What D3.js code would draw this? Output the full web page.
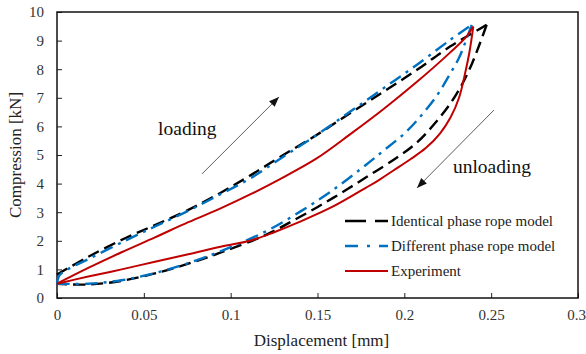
<!DOCTYPE html>
<html>
<head>
<meta charset="utf-8">
<script src="https://cdn.jsdelivr.net/npm/d3@7"></script>
<style>
  body { margin: 0; background: #fff; }
  svg text { font-family: "Liberation Serif", "Times New Roman", serif; }
</style>
</head>
<body>
<div id="chart"></div>
<script>
// data: [displacement mm, compression kN]
const identLoading = [
  [0, 0.82], [0.018, 1.44], [0.0392, 2.09], [0.0564, 2.55], [0.0756, 3.08],
  [0.0948, 3.70], [0.1112, 4.28], [0.1303, 5.0], [0.1495, 5.70], [0.1687, 6.46],
  [0.1879, 7.21], [0.2071, 7.97], [0.2263, 8.79], [0.2474, 9.55]
];
const identUnloading = [
  [0.2474, 9.55], [0.2435, 8.9], [0.239, 8.2], [0.2335, 7.5], [0.2265, 6.8],
  [0.2175, 6.1], [0.2075, 5.45], [0.196, 4.92], [0.178, 4.22], [0.159, 3.5],
  [0.14, 2.84], [0.12, 2.2], [0.0948, 1.6], [0.0756, 1.2], [0.0564, 0.86],
  [0.0372, 0.6], [0.018, 0.47], [0, 0.5]
];
const diffLoading = [
  [0, 0.5], [0.0015, 0.8], [0.006, 1.0], [0.018, 1.36], [0.0392, 2.0],
  [0.0564, 2.5], [0.0756, 3.05], [0.0948, 3.65], [0.1112, 4.18], [0.1303, 4.94],
  [0.1495, 5.70], [0.1687, 6.51], [0.1879, 7.33], [0.2071, 8.15], [0.2263, 9.02],
  [0.2388, 9.55]
];
const diffUnloading = [
  [0.2388, 9.55], [0.2355, 9.0], [0.2315, 8.4], [0.2255, 7.75], [0.219, 7.1],
  [0.21, 6.4], [0.2, 5.75], [0.188, 5.15], [0.178, 4.66], [0.159, 3.78],
  [0.14, 3.02], [0.12, 2.32], [0.0948, 1.65], [0.0756, 1.22], [0.0564, 0.87],
  [0.0372, 0.62], [0.018, 0.5], [0, 0.5]
];
const expLoading = [
  [0, 0.5], [0.018, 1.05], [0.0372, 1.6], [0.0564, 2.12], [0.0756, 2.65],
  [0.0948, 3.15], [0.1112, 3.62], [0.1303, 4.22], [0.1495, 4.88], [0.1687, 5.72],
  [0.1879, 6.6], [0.2071, 7.55], [0.2263, 8.58], [0.2359, 9.15], [0.2397, 9.49]
];
const expUnloading = [
  [0.2397, 9.49], [0.2375, 8.6], [0.2355, 8.0], [0.2315, 7.0], [0.2265, 6.3],
  [0.2205, 5.75], [0.2125, 5.25], [0.2035, 4.85], [0.1935, 4.45], [0.186, 4.15],
  [0.178, 3.86], [0.159, 3.2], [0.14, 2.67], [0.125, 2.3], [0.111, 2.0],
  [0.0948, 1.8], [0.0756, 1.53], [0.0564, 1.27], [0.0372, 1.0], [0.018, 0.75],
  [0, 0.5]
];

const seriesNames = ["Identical phase rope model", "Different phase rope model", "Experiment"];
const xTicks = [0, 0.05, 0.1, 0.15, 0.2, 0.25, 0.3];
const yTicks = [0, 1, 2, 3, 4, 5, 6, 7, 8, 9, 10];

// annotations in data units
const loadingArrow = [[0.0835, 4.34], [0.1278, 7.03]];
const unloadingArrow = [[0.2516, 6.57], [0.2073, 3.85]];

// layout
const width = 586;
const height = 354;
const margin = { top: 12, right: 8, bottom: 56, left: 57 };
const plotWidth = width - margin.left - margin.right;
const plotHeight = height - margin.top - margin.bottom;
const serif = "'Liberation Serif', 'Times New Roman', serif";

const svg = d3.select("#chart").append("svg")
  .attr("width", width)
  .attr("height", height)
  .attr("font-family", serif);

const defs = svg.append("defs");
defs.append("marker")
  .attr("id", "arrow")
  .attr("viewBox", "0 0 10 10")
  .attr("refX", 10)
  .attr("refY", 5)
  .attr("markerWidth", 10)
  .attr("markerHeight", 10)
  .attr("markerUnits", "userSpaceOnUse")
  .attr("orient", "auto")
  .append("path")
  .attr("d", "M0,1 L10,5 L0,9 Z")
  .attr("fill", "#111");

const g = svg.append("g")
  .attr("transform", `translate(${margin.left},${margin.top})`);

const x = d3.scaleLinear().domain([0, 0.3]).range([0, plotWidth]);
const y = d3.scaleLinear().domain([0, 10]).range([plotHeight, 0]);

// axes, ticks inside
const xAxis = d3.axisBottom(x).tickValues(xTicks).tickSize(-5).tickPadding(11)
  .tickFormat(d => d3.format("~g")(d));
const yAxis = d3.axisLeft(y).tickValues(yTicks).tickSize(-5).tickPadding(13);

const xAxisG = g.append("g")
  .attr("transform", `translate(0,${plotHeight})`)
  .call(xAxis);
const yAxisG = g.append("g").call(yAxis);

[xAxisG, yAxisG].forEach(a => {
  a.attr("font-family", serif).attr("font-size", 15);
  a.select(".domain").remove();
  a.selectAll(".tick line").attr("stroke", "#222").attr("stroke-width", 1);
  a.selectAll(".tick text")
    .attr("fill", "#333")
    .attr("font-family", serif)
    .attr("font-size", 15);
});
// keep the last x label inside the window
xAxisG.selectAll(".tick text").filter(d => d === 0.3).attr("dx", -2);

// frame
g.append("rect")
  .attr("width", plotWidth)
  .attr("height", plotHeight)
  .attr("fill", "none")
  .attr("stroke", "#111")
  .attr("stroke-width", 1.5);

// axis titles
g.append("text")
  .attr("x", plotWidth / 2 + 4)
  .attr("y", plotHeight + 48)
  .attr("text-anchor", "middle")
  .attr("fill", "#222")
  .attr("font-size", 17)
  .text("Displacement [mm]");

g.append("text")
  .attr("transform", `translate(${21 - margin.left},${plotHeight / 2}) rotate(-90)`)
  .attr("text-anchor", "middle")
  .attr("fill", "#222")
  .attr("font-size", 17)
  .text("Compression [kN]");

// curves
const line = d3.line()
  .x(d => x(d[0]))
  .y(d => y(d[1]))
  .curve(d3.curveCatmullRom.alpha(0.5));

const styles = [
  { color: "#000000", dash: "12,6", width: 2.4 },
  { color: "#0070C0", dash: "13,6,3,6", width: 2.4 },
  { color: "#C00000", dash: null, width: 2 }
];

const seriesData = [
  [identLoading, identUnloading],
  [diffLoading, diffUnloading],
  [expLoading, expUnloading]
];

seriesData.forEach((branches, i) => {
  branches.forEach(pts => {
    g.append("path")
      .datum(pts)
      .attr("d", line)
      .attr("fill", "none")
      .attr("stroke", styles[i].color)
      .attr("stroke-width", styles[i].width)
      .attr("stroke-dasharray", styles[i].dash);
  });
});

// arrows
[loadingArrow, unloadingArrow].forEach(a => {
  g.append("line")
    .attr("x1", x(a[0][0])).attr("y1", y(a[0][1]))
    .attr("x2", x(a[1][0])).attr("y2", y(a[1][1]))
    .attr("stroke", "#333")
    .attr("stroke-width", 0.8)
    .attr("marker-end", "url(#arrow)");
});

g.append("text")
  .attr("x", x(0.0582)).attr("y", y(5.70))
  .attr("fill", "#111")
  .attr("font-size", 19.5)
  .text("loading");

g.append("text")
  .attr("x", x(0.228)).attr("y", y(4.37))
  .attr("fill", "#111")
  .attr("font-size", 19.5)
  .text("unloading");

// legend
const legend = g.append("g")
  .attr("transform", `translate(${345 - margin.left},${221 - margin.top})`);

seriesNames.forEach((name, i) => {
  const row = legend.append("g").attr("transform", `translate(0,${i * 25})`);
  row.append("line")
    .attr("x1", 0).attr("x2", 43)
    .attr("stroke", styles[i].color)
    .attr("stroke-width", styles[i].width)
    .attr("stroke-dasharray", i === 0 ? "21,9,13" : i === 1 ? "13,9,3,9,13" : null);
  row.append("text")
    .attr("x", 46)
    .attr("y", 5)
    .attr("fill", "#222")
    .attr("font-size", 15)
    .text(name);
});
</script>
</body>
</html>
